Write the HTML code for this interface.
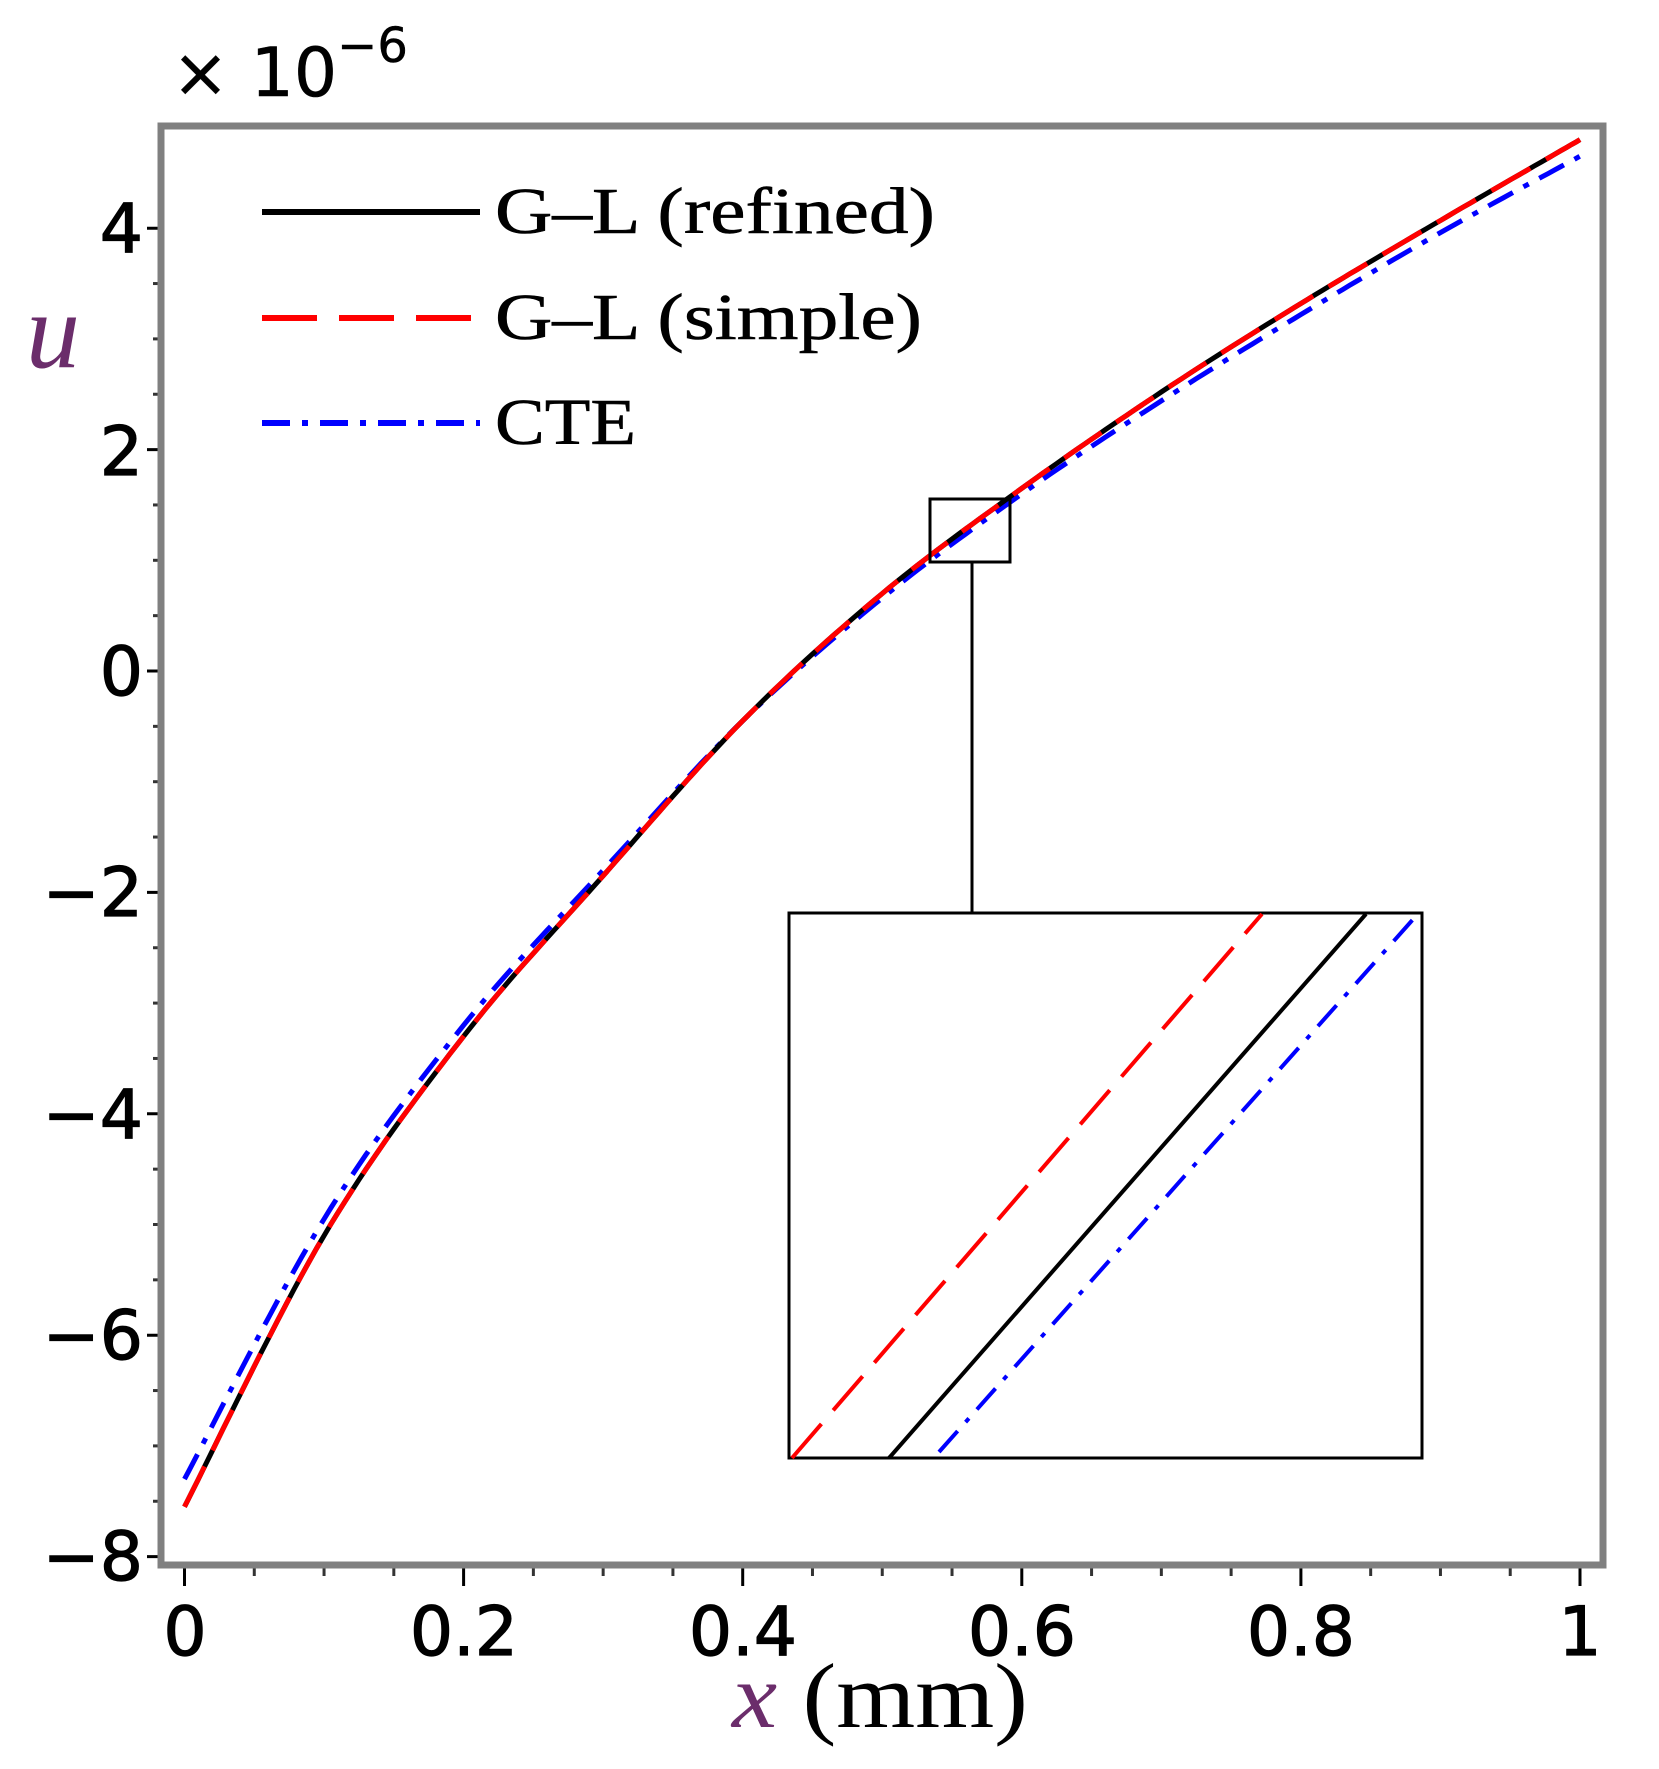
<!DOCTYPE html>
<html><head><meta charset="utf-8"><style>
html,body{margin:0;padding:0;background:#fff}
svg{display:block}
.tk{font-family:"DejaVu Sans","Liberation Sans",sans-serif;font-size:68px;fill:#000;stroke:#000;stroke-width:1.2}
.lg{font-family:"Liberation Serif",serif;font-size:66px;fill:#000;stroke:#000;stroke-width:0.6}
</style></head><body>
<svg id="s" width="1659" height="1769" viewBox="0 0 1659 1769" xmlns="http://www.w3.org/2000/svg">
<rect x="0" y="0" width="1659" height="1769" fill="#fff"/>
<g id="ticks" stroke="#000" stroke-width="3"></g>
<g id="curves" fill="none" stroke-width="5"></g>
<rect x="161" y="126" width="1442" height="1439" fill="none" stroke="#808080" stroke-width="7"/>
<g class="tk" text-anchor="end">
<text x="143" y="252">4</text>
<text x="143" y="475">2</text>
<text x="143" y="695">0</text>
<text x="143" y="916">−2</text>
<text x="143" y="1138">−4</text>
<text x="143" y="1359">−6</text>
<text x="143" y="1580">−8</text>
</g>
<g class="tk" text-anchor="middle">
<text x="185" y="1655">0</text>
<text x="464" y="1655">0.2</text>
<text x="743" y="1655">0.4</text>
<text x="1022" y="1655">0.6</text>
<text x="1301" y="1655">0.8</text>
<text x="1580" y="1655">1</text>
</g>
<text class="tk" x="172" y="96" font-size="66" style="stroke-width:0.5">× 10<tspan dy="-34" font-size="48">−6</tspan></text>
<text x="26" y="367" font-family="Liberation Serif,serif" font-style="italic" font-size="108" fill="#6b2d6b">u</text>
<text x="732" y="1727" font-family="Liberation Serif,serif" font-size="92" fill="#000" textLength="296" lengthAdjust="spacingAndGlyphs"><tspan font-style="italic" fill="#6b2d6b">x</tspan> (mm)</text>
<line x1="262" y1="212" x2="480" y2="212" stroke="#000" stroke-width="6"/>
<line x1="262" y1="318" x2="480" y2="318" stroke="#f00" stroke-width="6" stroke-dasharray="55,22"/>
<line x1="262" y1="423" x2="480" y2="423" stroke="#00f" stroke-width="6" stroke-dasharray="28,12,6,12"/>
<text class="lg" x="495" y="233" textLength="440" lengthAdjust="spacingAndGlyphs">G–L (refined)</text>
<text class="lg" x="495" y="339" textLength="427" lengthAdjust="spacingAndGlyphs">G–L (simple)</text>
<text class="lg" x="495" y="444" textLength="141" lengthAdjust="spacingAndGlyphs">CTE</text>
<rect x="930" y="499" width="80" height="63" fill="none" stroke="#000" stroke-width="3"/>
<line x1="972" y1="562" x2="972" y2="912" stroke="#000" stroke-width="3"/>
<rect x="789" y="913" width="633" height="545" fill="#fff" stroke="#000" stroke-width="3"/>
<line x1="792" y1="1458" x2="1262" y2="914" stroke="#f00" stroke-width="4" stroke-dasharray="45,18"/>
<line x1="889" y1="1458" x2="1366" y2="914" stroke="#000" stroke-width="4"/>
<line x1="939" y1="1452" x2="1416" y2="916" stroke="#00f" stroke-width="4" stroke-dasharray="28,12,5,12"/>
</svg>
<script>
(function(){
var NS="http://www.w3.org/2000/svg";
function X(x){return 184.5+x*1395.5;}
function Y(u){return 671-u*110.7;}
var t=document.getElementById("ticks");
function ln(g,x1,y1,x2,y2,c,w){var l=document.createElementNS(NS,"line");l.setAttribute("x1",x1);l.setAttribute("y1",y1);l.setAttribute("x2",x2);l.setAttribute("y2",y2);l.setAttribute("stroke",c);l.setAttribute("stroke-width",w);g.appendChild(l);}
for(var i=0;i<=24;i++){var u=-8+i*0.5;var y=Y(u);var maj=(i%4==0);ln(t,maj?147:153,y,164,y,maj?"#000":"#333",3);}
for(var i=0;i<=20;i++){var x=X(i*0.05);var maj=(i%4==0);ln(t,x,1565,x,maj?1586:1576,maj?"#000":"#333",3);}
var ref=[[0,-7.55],[.1,-5.1],[.2,-3.3],[.3,-1.85],[.4,-0.45],[.5,0.7],[.6,1.65],[.7,2.52],[.8,3.32],[.9,4.07],[1,4.8]];
var cte=[[0,-7.3],[.1,-4.95],[.2,-3.2],[.3,-1.8],[.4,-0.45],[.5,0.66],[.6,1.6],[.7,2.44],[.8,3.22],[.9,3.96],[1,4.65]];
function path(p){var d="";for(var i=0;i<p.length-1;i++){var p0=p[Math.max(i-1,0)],p1=p[i],p2=p[i+1],p3=p[Math.min(i+2,p.length-1)];
for(var k=0;k<=20;k++){var s=k/20,s2=s*s,s3=s2*s;
var x=0.5*((2*p1[0])+(-p0[0]+p2[0])*s+(2*p0[0]-5*p1[0]+4*p2[0]-p3[0])*s2+(-p0[0]+3*p1[0]-3*p2[0]+p3[0])*s3);
var y=0.5*((2*p1[1])+(-p0[1]+p2[1])*s+(2*p0[1]-5*p1[1]+4*p2[1]-p3[1])*s2+(-p0[1]+3*p1[1]-3*p2[1]+p3[1])*s3);
d+=(d?"L":"M")+X(x).toFixed(1)+","+Y(y).toFixed(1);}}return d;}
var g=document.getElementById("curves");
function pp(d,c,da){var e=document.createElementNS(NS,"path");e.setAttribute("d",d);e.setAttribute("stroke",c);if(da)e.setAttribute("stroke-dasharray",da);g.appendChild(e);}
pp(path(cte),"#00f","28,12,6,12");
pp(path(ref),"#000");
pp(path(ref),"#f00","45,18");
})();
</script>
</body></html>
